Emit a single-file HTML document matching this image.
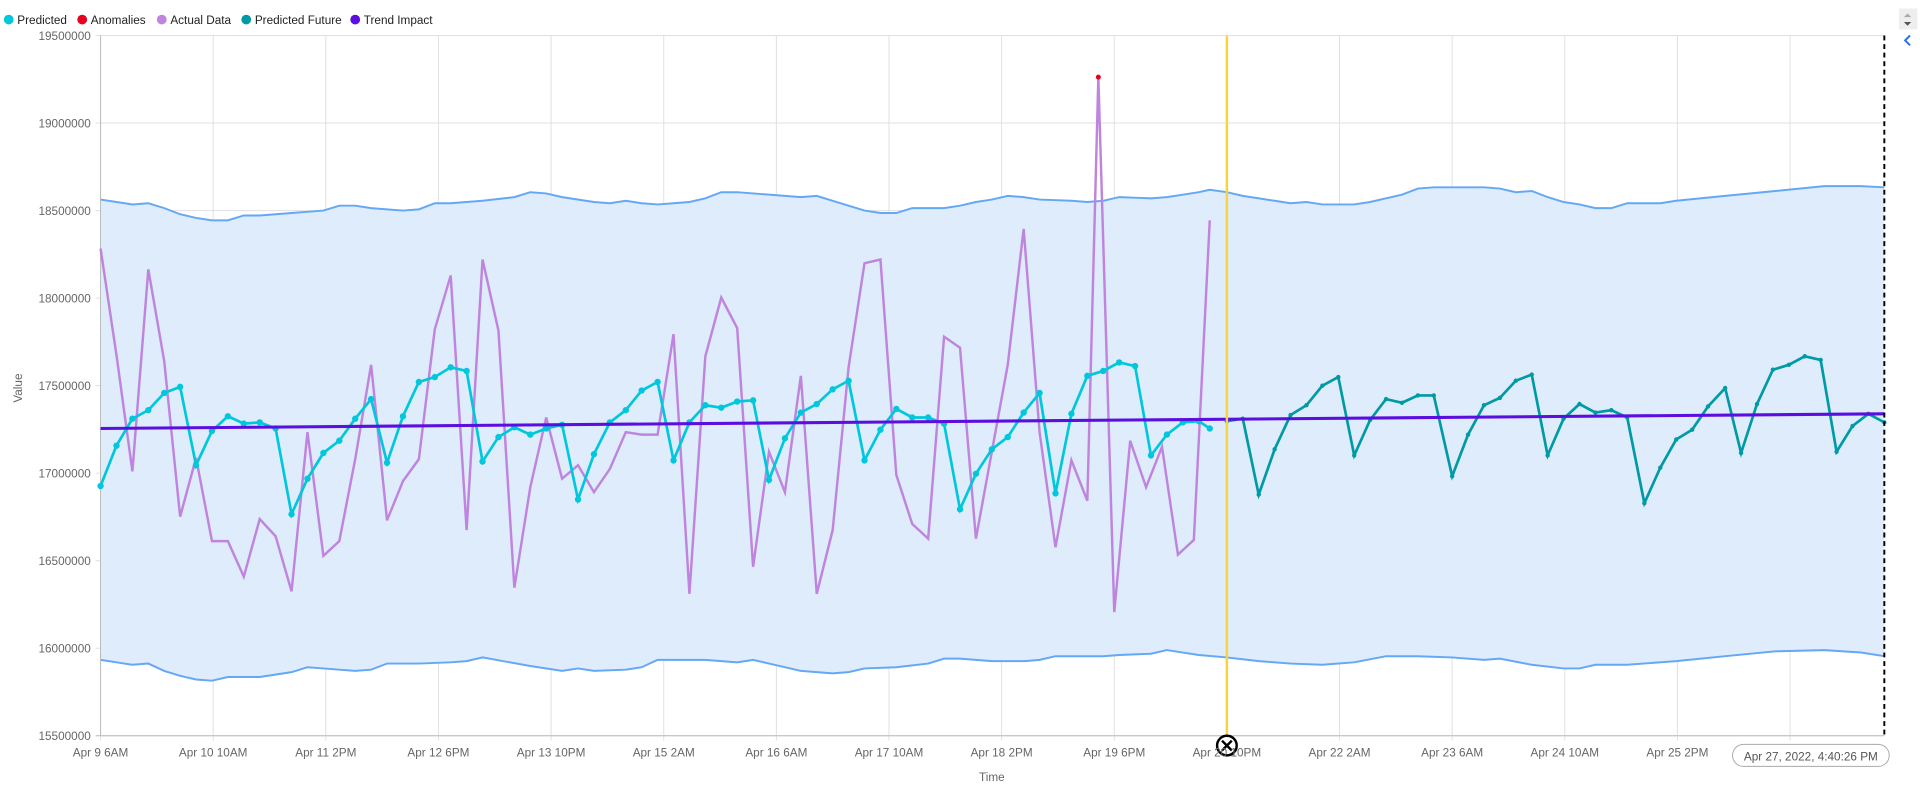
<!DOCTYPE html>
<html><head><meta charset="utf-8"><style>
html,body{margin:0;padding:0;background:#fff;width:1920px;height:797px;overflow:hidden}
svg{display:block;font-family:"Liberation Sans",sans-serif}
</style></head><body>
<svg id="s" width="1920" height="797" viewBox="0 0 1568 651" xmlns="http://www.w3.org/2000/svg">
<g id="grid" stroke="#e0e0e0" stroke-width="0.8"></g>
<path id="band" fill="#dfecfb" stroke="none"/>
<polyline id="up" fill="none" stroke="#64a8f5" stroke-width="1.6"/>
<polyline id="lo" fill="none" stroke="#64a8f5" stroke-width="1.6"/>
<line x1="82" y1="29" x2="82" y2="601" stroke="#bbb" stroke-width="0.8"/>
<line x1="78" y1="601" x2="1539" y2="601" stroke="#bbb" stroke-width="0.8"/>
<polyline id="act" fill="none" stroke="#bf85de" stroke-width="2"/>
<polyline id="pred" fill="none" stroke="#00c8dc" stroke-width="2.2"/>
<polyline id="fut" fill="none" stroke="#009aa6" stroke-width="2.2"/>
<g id="dots"></g>
<line x1="82" y1="350" x2="1539" y2="338" stroke="#5a0ee0" stroke-width="2.5"/>
<circle cx="897" cy="63" r="2" fill="#e8001c"/>
<line x1="1002" y1="29" x2="1002" y2="603" stroke="#f7d33c" stroke-width="2"/>
<line x1="1539" y1="29" x2="1539" y2="601" stroke="#000" stroke-width="1.6" stroke-dasharray="4,3"/>
<circle cx="1002" cy="609" r="8" fill="#fff" stroke="#000" stroke-width="2"/>
<path d="M998,605 L1006,613 M1006,605 L998,613" stroke="#000" stroke-width="2"/>
<g id="ylab" font-size="9.6" fill="#666" text-anchor="end"></g>
<g id="xlab" font-size="9.6" fill="#666" text-anchor="middle"></g>
<text x="810" y="638" font-size="9.6" fill="#666" text-anchor="middle">Time</text>
<text transform="translate(18,317) rotate(-90)" font-size="9.6" fill="#666" text-anchor="middle">Value</text>
<rect x="1415" y="608" width="128" height="18" rx="9" fill="#fff" stroke="#aaa" stroke-width="0.8"/>
<text x="1479" y="621" font-size="9.6" fill="#555" text-anchor="middle">Apr 27, 2022, 4:40:26 PM</text>
<rect x="1551" y="7" width="15" height="17" fill="#eee"/>
<path d="M1555,14 l3,-3 l3,3z" fill="#aaa"/><path d="M1555,18 l3,3 l3,-3z" fill="#555"/>
<path d="M1560,29 l-4,4 l4,4" fill="none" stroke="#2a6ff0" stroke-width="1.6"/>
<g font-size="9.6" fill="#222">
<circle cx="7" cy="16" r="4" fill="#00c8dc"/><text x="14" y="19.5">Predicted</text>
<circle cx="67" cy="16" r="4" fill="#e8001c"/><text x="74" y="19.5">Anomalies</text>
<circle cx="132" cy="16" r="4" fill="#bf85de"/><text x="139" y="19.5">Actual Data</text>
<circle cx="201" cy="16" r="4" fill="#009aa6"/><text x="208" y="19.5">Predicted Future</text>
<circle cx="290" cy="16" r="4" fill="#5a0ee0"/><text x="297" y="19.5">Trend Impact</text>
</g>
</svg>
<script>
var NS="http://www.w3.org/2000/svg";
function P(a){var s=[];for(var i=0;i<a.length;i+=2)s.push(a[i]+","+a[i+1]);return s.join(" ");}
var up=[82,163,95,165,108,167,121,166,134,170,147,175,160,178,173,180,186,180,199,176,212,176,225,175,238,174,251,173,264,172,277,168,290,168,303,170,316,171,329,172,342,171,355,166,368,166,394,164,420,161,433,157,446,158,459,161,485,165,498,166,511,164,524,166,537,167,550,166,563,165,576,162,589,157,602,157,628,159,654,161,667,160,680,164,693,168,706,172,719,174,732,174,745,170,771,170,784,168,797,165,810,163,823,160,836,161,849,163,875,164,888,165,901,164,914,161,940,162,953,161,966,159,979,157,988,155,1002,157,1015,160,1041,164,1054,166,1067,165,1080,167,1106,167,1119,165,1132,162,1145,159,1158,154,1171,153,1212,153,1225,154,1238,157,1251,156,1264,161,1277,165,1290,167,1303,170,1316,170,1329,166,1356,166,1369,164,1409,160,1450,156,1490,152,1520,152,1539,153];
var lo=[82,539,95,541,108,543,121,542,134,548,147,552,160,555,173,556,186,553,199,553,212,553,238,549,251,545,264,546,277,547,290,548,303,547,316,542,342,542,368,541,381,540,394,537,433,544,459,548,472,546,485,548,511,547,524,545,537,539,576,539,602,541,615,539,628,542,641,545,654,548,680,550,693,549,706,546,732,545,758,542,771,538,784,538,810,540,837,540,849,539,862,536,901,536,914,535,940,534,953,531,966,533,979,535,1002,537,1028,540,1054,542,1080,543,1106,541,1132,536,1158,536,1186,537,1212,539,1225,538,1251,543,1277,546,1290,546,1303,543,1329,543,1369,540,1409,536,1450,532,1490,531,1520,533,1539,536];
var pred=[82,397,95,364,108,342,121,335,134,321,147,316,160,380,173,352,186,340,199,346,212,345,225,350,238,420,251,391,264,370,277,360,290,342,303,326,316,378,329,340,342,312,355,308,368,300,381,303,394,377,407,357,420,349,433,355,446,350,459,347,472,408,485,371,498,345,511,335,524,319,537,312,550,376,563,345,576,331,589,333,602,328,615,327,628,392,641,358,654,337,667,330,680,318,693,311,706,376,719,351,732,334,745,341,758,341,771,346,784,416,797,387,810,367,823,357,836,337,849,321,862,403,875,338,888,307,901,303,914,296,927,299,940,372,953,355,966,345,979,344,988,350];
var act=[82,203,95,290,108,385,121,220,134,295,147,422,160,374,173,442,186,442,199,471,212,424,225,438,238,483,251,353,264,454,277,442,290,375,303,298,316,425,329,393,342,375,355,269,368,225,381,433,394,212,407,270,420,480,433,398,446,341,459,391,472,380,485,402,498,383,511,353,524,355,537,355,550,273,563,485,576,291,589,243,602,268,615,463,628,369,641,402,654,307,667,485,680,433,693,300,706,215,719,212,732,388,745,428,758,440,771,275,784,284,797,440,810,369,823,298,836,187,849,353,862,447,875,376,888,409,897,63,910,500,923,360,936,398,949,365,962,453,975,441,988,180];
var fut=[1002,344,1015,342,1028,404,1041,367,1054,339,1067,331,1080,315,1093,308,1106,372,1119,343,1132,326,1145,329,1158,323,1171,323,1186,389,1199,355,1212,331,1225,325,1238,311,1251,306,1264,372,1277,342,1290,330,1303,337,1316,335,1329,341,1343,411,1356,382,1369,359,1382,351,1395,332,1409,317,1422,370,1435,330,1448,302,1461,298,1474,291,1487,294,1500,369,1513,348,1526,338,1539,345];
document.getElementById("up").setAttribute("points",P(up));
document.getElementById("lo").setAttribute("points",P(lo));
document.getElementById("pred").setAttribute("points",P(pred));
document.getElementById("act").setAttribute("points",P(act));
document.getElementById("fut").setAttribute("points",P(fut));
var d="M"+P(up).replace(/ /g," L");var r=[];for(var i=lo.length-2;i>=0;i-=2)r.push(lo[i]+","+lo[i+1]);
document.getElementById("band").setAttribute("d",d+" L"+r.join(" L")+" Z");
var g=document.getElementById("dots");
function dots(a,c,rr){for(var i=0;i<a.length;i+=2){var e=document.createElementNS(NS,"circle");e.setAttribute("cx",a[i]);e.setAttribute("cy",a[i+1]);e.setAttribute("r",rr);e.setAttribute("fill",c);g.appendChild(e);}}
dots(pred,"#00c8dc",2.6);dots(fut,"#009aa6",1.8);
var grid=document.getElementById("grid"),yl=document.getElementById("ylab"),xl=document.getElementById("xlab");
var yv=["19500000","19000000","18500000","18000000","17500000","17000000","16500000","16000000","15500000"];
for(var k=0;k<9;k++){var y=29+k*71.5;var l=document.createElementNS(NS,"line");l.setAttribute("x1",78);l.setAttribute("x2",1539);l.setAttribute("y1",y);l.setAttribute("y2",y);grid.appendChild(l);
var t=document.createElementNS(NS,"text");t.setAttribute("x",74);t.setAttribute("y",y+3.5);t.textContent=yv[k];yl.appendChild(t);}
var xv=["Apr 9 6AM","Apr 10 10AM","Apr 11 2PM","Apr 12 6PM","Apr 13 10PM","Apr 15 2AM","Apr 16 6AM","Apr 17 10AM","Apr 18 2PM","Apr 19 6PM","Apr 20 10PM","Apr 22 2AM","Apr 23 6AM","Apr 24 10AM","Apr 25 2PM","Apr 26 6PM"];
for(var k=0;k<16;k++){var x=82+k*92;var l=document.createElementNS(NS,"line");l.setAttribute("x1",x);l.setAttribute("x2",x);l.setAttribute("y1",29);l.setAttribute("y2",605);grid.appendChild(l);
var t=document.createElementNS(NS,"text");t.setAttribute("x",x);t.setAttribute("y",618);t.textContent=xv[k];xl.appendChild(t);}
</script>
</body></html>
